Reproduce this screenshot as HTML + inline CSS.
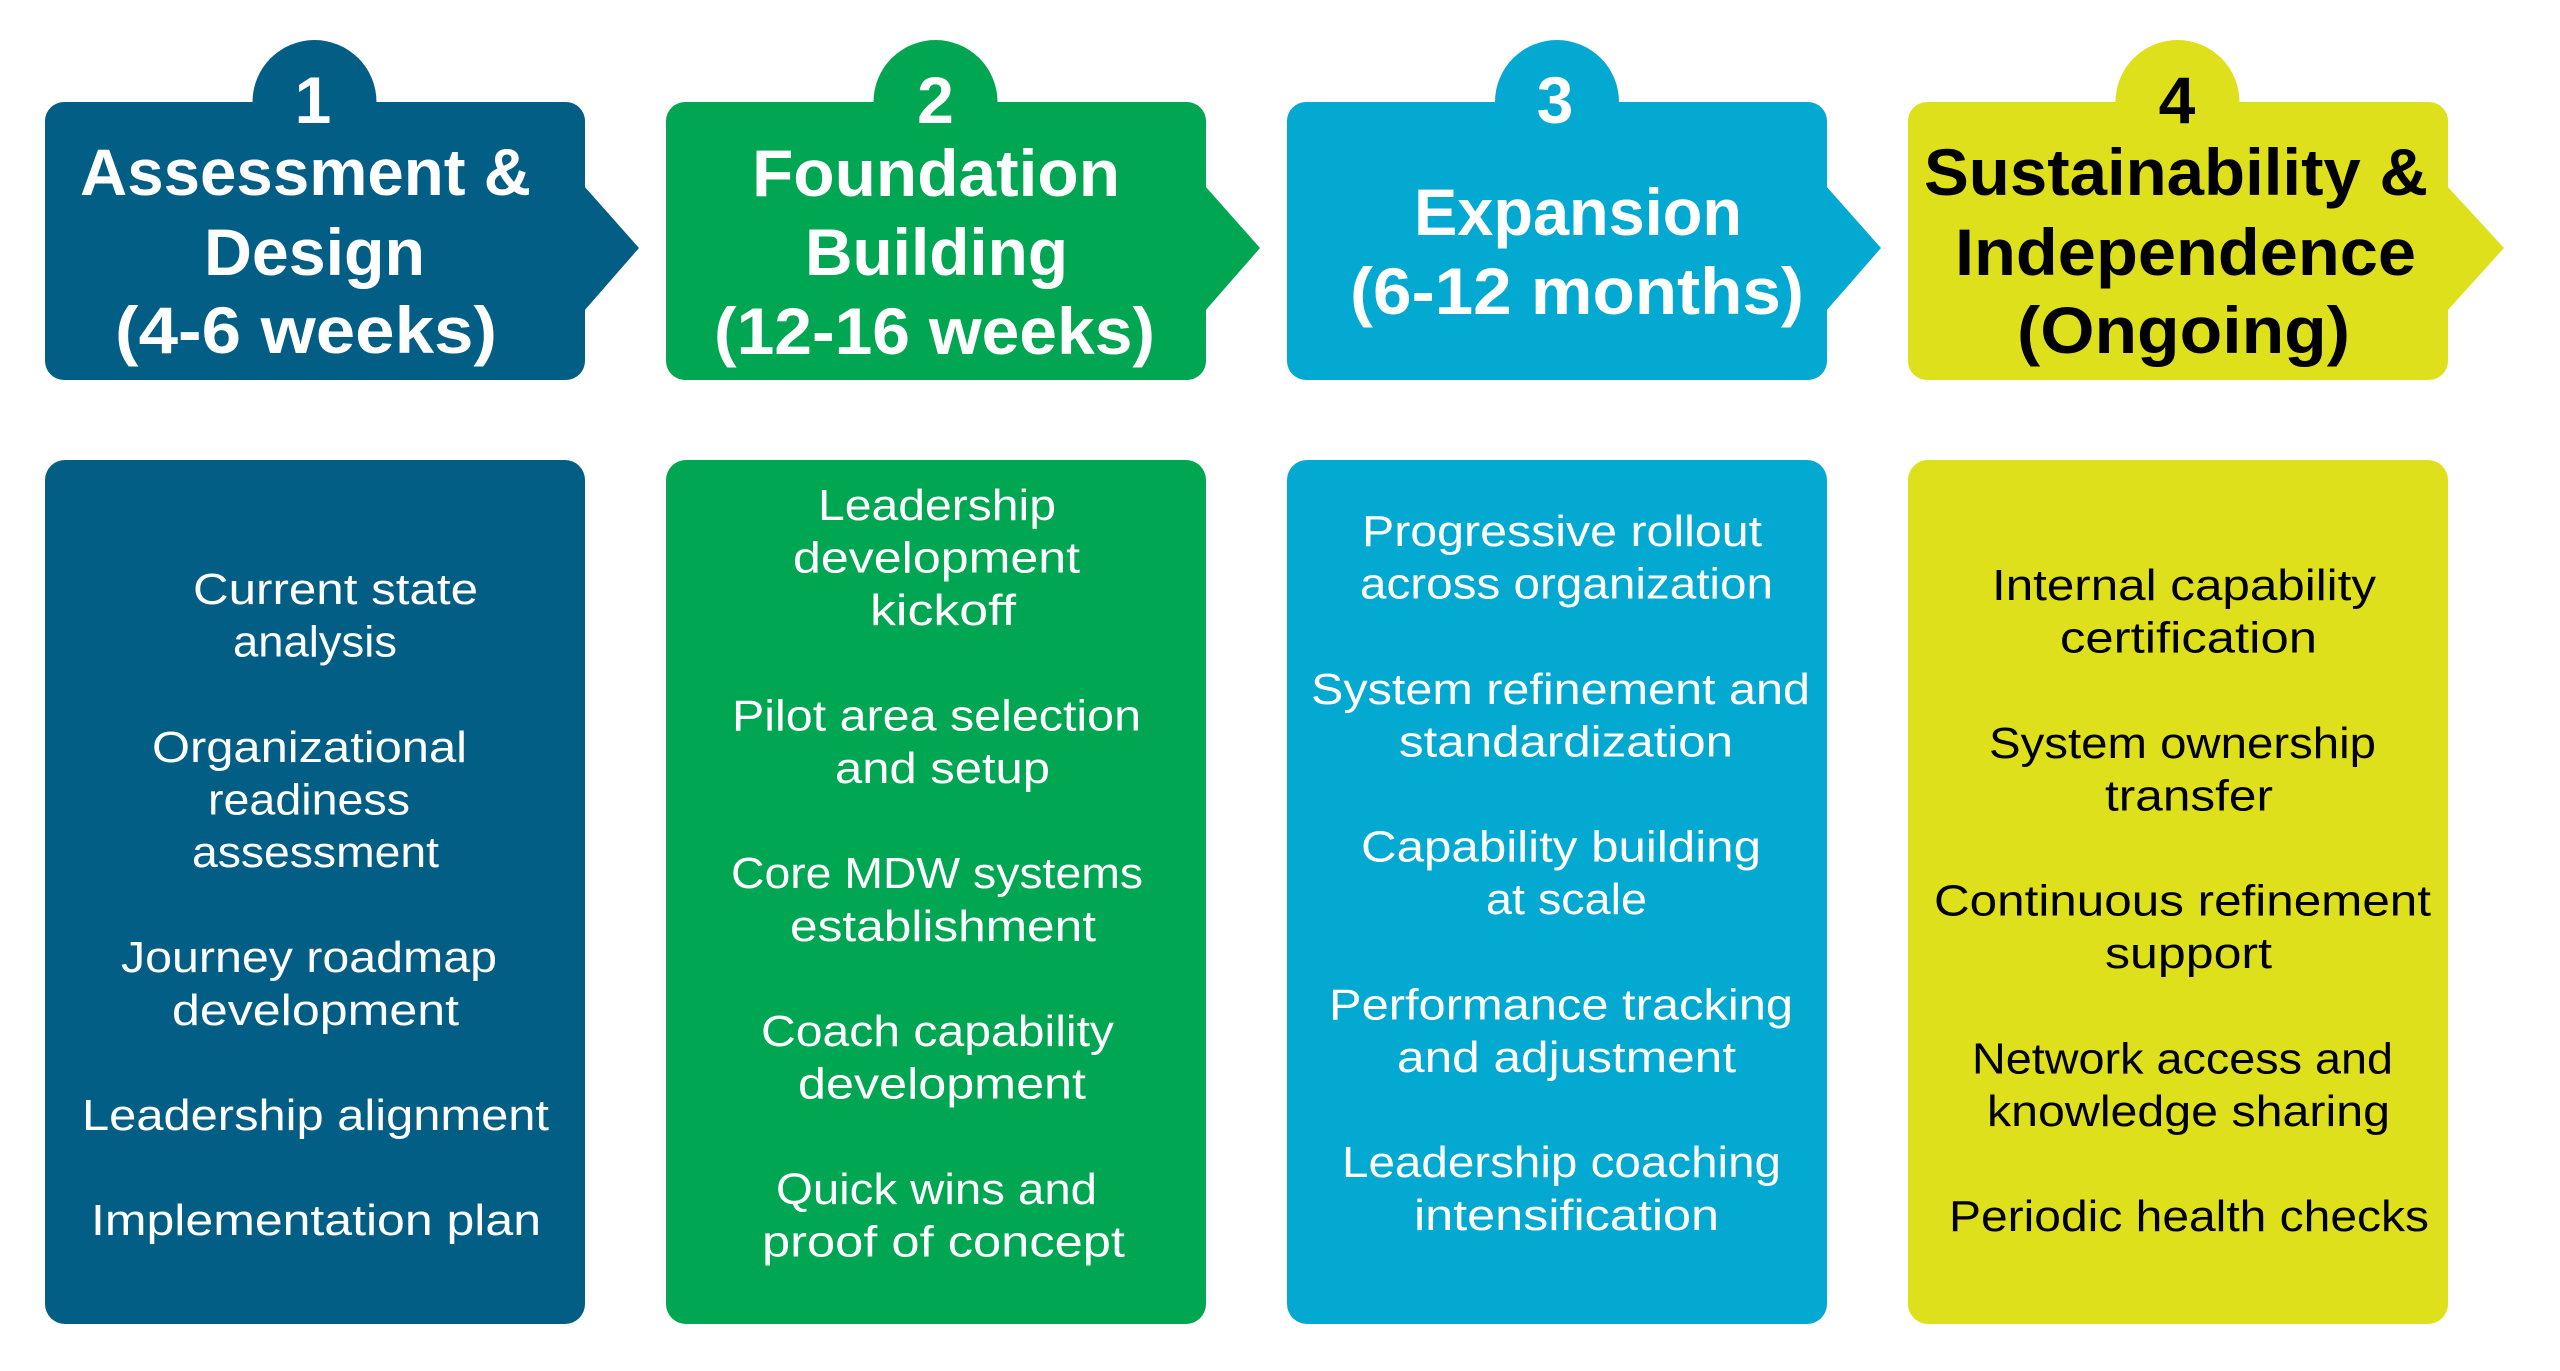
<!DOCTYPE html>
<html>
<head>
<meta charset="utf-8">
<style>
  html,body{margin:0;padding:0;background:#ffffff;}
  body{width:2560px;height:1371px;overflow:hidden;}
  svg{display:block;}
  .t{font-family:"Liberation Sans",Arial,sans-serif;font-weight:bold;font-size:66px;}
  .b{font-family:"Liberation Sans",Arial,sans-serif;font-weight:normal;font-size:44px;}
</style>
</head>
<body>
<svg width="2560" height="1371" viewBox="0 0 2560 1371" xmlns="http://www.w3.org/2000/svg">
  <!-- ========== BOX 1 ========== -->
  <g fill="#025E85">
    <circle cx="314.5" cy="102" r="62"/>
    <rect x="45" y="102" width="540" height="278" rx="19" ry="19"/>
    <polygon points="584,186 639,248 584,311"/>
    <rect x="45" y="460" width="540" height="864" rx="20" ry="20"/>
  </g>
  <g fill="#ffffff" class="t">
    <text x="313" y="123" text-anchor="middle">1</text>
    <text x="80" y="195" textLength="451" lengthAdjust="spacingAndGlyphs">Assessment &amp;</text>
    <text x="204" y="275" textLength="221" lengthAdjust="spacingAndGlyphs">Design</text>
    <text x="115" y="353" textLength="382" lengthAdjust="spacingAndGlyphs">(4-6 weeks)</text>
  </g>
  <g fill="#ffffff" class="b">
    <text x="193" y="604" textLength="285" lengthAdjust="spacingAndGlyphs">Current state</text>
    <text x="233" y="656.6" textLength="164" lengthAdjust="spacingAndGlyphs">analysis</text>
    <text x="152" y="761.8" textLength="315" lengthAdjust="spacingAndGlyphs">Organizational</text>
    <text x="208" y="814.4" textLength="202" lengthAdjust="spacingAndGlyphs">readiness</text>
    <text x="192" y="867" textLength="247" lengthAdjust="spacingAndGlyphs">assessment</text>
    <text x="121" y="972.2" textLength="376" lengthAdjust="spacingAndGlyphs">Journey roadmap</text>
    <text x="172" y="1024.8" textLength="287" lengthAdjust="spacingAndGlyphs">development</text>
    <text x="82" y="1130" textLength="467" lengthAdjust="spacingAndGlyphs">Leadership alignment</text>
    <text x="91" y="1235.2" textLength="450" lengthAdjust="spacingAndGlyphs">Implementation plan</text>
  </g>

  <!-- ========== BOX 2 ========== -->
  <g fill="#00A651">
    <circle cx="935.5" cy="102" r="62"/>
    <rect x="666" y="102" width="540" height="278" rx="19" ry="19"/>
    <polygon points="1205,186 1260,248 1205,311"/>
    <rect x="666" y="460" width="540" height="864" rx="20" ry="20"/>
  </g>
  <g fill="#ffffff" class="t">
    <text x="935.5" y="123" text-anchor="middle">2</text>
    <text x="752" y="196" textLength="368" lengthAdjust="spacingAndGlyphs">Foundation</text>
    <text x="805" y="275" textLength="263" lengthAdjust="spacingAndGlyphs">Building</text>
    <text x="714" y="354" textLength="441" lengthAdjust="spacingAndGlyphs">(12-16 weeks)</text>
  </g>
  <g fill="#ffffff" class="b">
    <text x="818" y="520" textLength="238" lengthAdjust="spacingAndGlyphs">Leadership</text>
    <text x="793" y="572.6" textLength="287" lengthAdjust="spacingAndGlyphs">development</text>
    <text x="870" y="625.2" textLength="146" lengthAdjust="spacingAndGlyphs">kickoff</text>
    <text x="732" y="730.4" textLength="409" lengthAdjust="spacingAndGlyphs">Pilot area selection</text>
    <text x="835" y="783" textLength="215" lengthAdjust="spacingAndGlyphs">and setup</text>
    <text x="731" y="888.2" textLength="412" lengthAdjust="spacingAndGlyphs">Core MDW systems</text>
    <text x="790" y="940.8" textLength="306" lengthAdjust="spacingAndGlyphs">establishment</text>
    <text x="761" y="1046" textLength="353" lengthAdjust="spacingAndGlyphs">Coach capability</text>
    <text x="798" y="1098.6" textLength="288" lengthAdjust="spacingAndGlyphs">development</text>
    <text x="776" y="1203.8" textLength="321" lengthAdjust="spacingAndGlyphs">Quick wins and</text>
    <text x="762" y="1256.4" textLength="363" lengthAdjust="spacingAndGlyphs">proof of concept</text>
  </g>

  <!-- ========== BOX 3 ========== -->
  <g fill="#03A9D0">
    <circle cx="1557" cy="102" r="62"/>
    <rect x="1287" y="102" width="540" height="278" rx="19" ry="19"/>
    <polygon points="1826,186 1881,248 1826,311"/>
    <rect x="1287" y="460" width="540" height="864" rx="20" ry="20"/>
  </g>
  <g fill="#ffffff" class="t">
    <text x="1555" y="123" text-anchor="middle">3</text>
    <text x="1414" y="235" textLength="328" lengthAdjust="spacingAndGlyphs">Expansion</text>
    <text x="1350" y="314" textLength="454" lengthAdjust="spacingAndGlyphs">(6-12 months)</text>
  </g>
  <g fill="#ffffff" class="b">
    <text x="1362" y="546" textLength="400" lengthAdjust="spacingAndGlyphs">Progressive rollout</text>
    <text x="1360" y="598.6" textLength="413" lengthAdjust="spacingAndGlyphs">across organization</text>
    <text x="1311" y="703.8" textLength="499" lengthAdjust="spacingAndGlyphs">System refinement and</text>
    <text x="1399" y="756.4" textLength="334" lengthAdjust="spacingAndGlyphs">standardization</text>
    <text x="1361" y="861.6" textLength="400" lengthAdjust="spacingAndGlyphs">Capability building</text>
    <text x="1486" y="914.2" textLength="161" lengthAdjust="spacingAndGlyphs">at scale</text>
    <text x="1329" y="1019.4" textLength="464" lengthAdjust="spacingAndGlyphs">Performance tracking</text>
    <text x="1397" y="1072" textLength="339" lengthAdjust="spacingAndGlyphs">and adjustment</text>
    <text x="1342" y="1177.2" textLength="439" lengthAdjust="spacingAndGlyphs">Leadership coaching</text>
    <text x="1414" y="1229.8" textLength="305" lengthAdjust="spacingAndGlyphs">intensification</text>
  </g>

  <!-- ========== BOX 4 ========== -->
  <g fill="#DDE01B">
    <circle cx="2177.5" cy="102" r="62"/>
    <rect x="1908" y="102" width="540" height="278" rx="19" ry="19"/>
    <polygon points="2447,186 2504,248 2447,311"/>
    <rect x="1908" y="460" width="540" height="864" rx="20" ry="20"/>
  </g>
  <g fill="#000000" class="t">
    <text x="2177" y="123" text-anchor="middle">4</text>
    <text x="1924" y="195" textLength="504" lengthAdjust="spacingAndGlyphs">Sustainability &amp;</text>
    <text x="1955" y="275" textLength="461" lengthAdjust="spacingAndGlyphs">Independence</text>
    <text x="2017" y="353" textLength="333" lengthAdjust="spacingAndGlyphs">(Ongoing)</text>
  </g>
  <g fill="#000000" class="b">
    <text x="1992" y="600" textLength="384" lengthAdjust="spacingAndGlyphs">Internal capability</text>
    <text x="2060" y="652.6" textLength="257" lengthAdjust="spacingAndGlyphs">certification</text>
    <text x="1989" y="757.8" textLength="387" lengthAdjust="spacingAndGlyphs">System ownership</text>
    <text x="2105" y="810.4" textLength="168" lengthAdjust="spacingAndGlyphs">transfer</text>
    <text x="1934" y="915.6" textLength="497" lengthAdjust="spacingAndGlyphs">Continuous refinement</text>
    <text x="2105" y="968.2" textLength="167" lengthAdjust="spacingAndGlyphs">support</text>
    <text x="1972" y="1073.4" textLength="421" lengthAdjust="spacingAndGlyphs">Network access and</text>
    <text x="1987" y="1126" textLength="403" lengthAdjust="spacingAndGlyphs">knowledge sharing</text>
    <text x="1949" y="1231.2" textLength="480" lengthAdjust="spacingAndGlyphs">Periodic health checks</text>
  </g>
</svg>
</body>
</html>
